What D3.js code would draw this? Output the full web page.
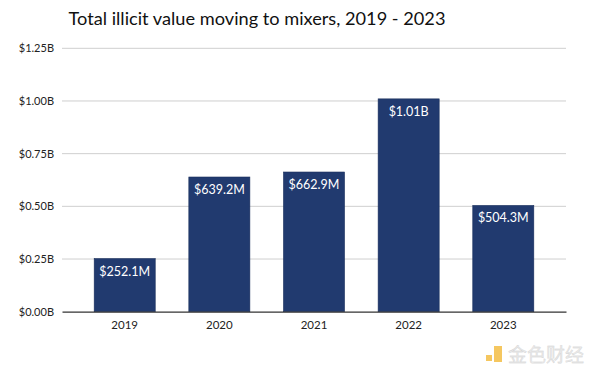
<!DOCTYPE html>
<html><head><meta charset="utf-8">
<script src="https://cdn.jsdelivr.net/npm/d3@7"></script>
<style>body{margin:0;background:#fff}svg{display:block}</style>
</head><body>
<svg id="c" width="600" height="379"></svg>
<script>
const years = ["2019","2020","2021","2022","2023"];
const values = [0.2521, 0.6392, 0.6629, 1.01, 0.5043];
const valueLabels = ["$252.1M","$639.2M","$662.9M","$1.01B","$504.3M"];
const yTicks = [0, 0.25, 0.5, 0.75, 1.0, 1.25];
const tickLabels = ["$0.00B","$0.25B","$0.50B","$0.75B","$1.00B","$1.25B"];
const title = "Total illicit value moving to mixers, 2019 - 2023";

const svg = d3.select("#c");
const font = "Lato, 'Noto Sans', sans-serif";
const x = d3.scaleBand().domain(years).range([62, 566]).paddingInner(0.355).paddingOuter(0.34);
const y = d3.scaleLinear().domain([0, 1.25]).range([311.7, 48.3]);

svg.append("text").attr("x", 257).attr("y", 25).attr("text-anchor","middle")
  .attr("font-family", font).attr("font-size", 18.2).attr("fill","#111").text(title);

const grid = svg.append("g");
grid.selectAll("line").data(yTicks.slice(1)).join("line")
  .attr("x1", 62).attr("x2", 566).attr("y1", d=>y(d)).attr("y2", d=>y(d))
  .attr("stroke","#cfcfcf").attr("stroke-width",1);

const yAxis = d3.axisLeft(y).tickValues(yTicks).tickSize(0).tickPadding(8)
  .tickFormat((d,i)=>tickLabels[i]);
const ga = svg.append("g").attr("transform","translate(62,0)").call(yAxis);
ga.select(".domain").remove();
ga.selectAll("text").attr("font-family", font).attr("font-size", 11).attr("fill","#222");

svg.selectAll("rect.bar").data(values).join("rect").attr("class","bar")
  .attr("x",(d,i)=>x(years[i])).attr("width", x.bandwidth())
  .attr("y", d=>y(d)).attr("height", d=>y(0)-y(d))
  .attr("fill","#213a6f").attr("stroke","#1a2f5c").attr("stroke-width",0.6);

svg.selectAll("text.val").data(values).join("text").attr("class","val")
  .attr("x",(d,i)=>x(years[i])+x.bandwidth()/2).attr("y", d=>y(d)+17)
  .attr("text-anchor","middle").attr("font-family", font).attr("font-size", 12.5)
  .attr("fill","#fff").text((d,i)=>valueLabels[i]);

const xAxis = d3.axisBottom(x).tickSize(0).tickPadding(9);
const gx = svg.append("g").attr("transform",`translate(0,${y(0)})`).call(xAxis);
gx.select(".domain").attr("stroke","#333").attr("stroke-width",1.2);
gx.selectAll("text").attr("font-family", font).attr("font-size", 11.5).attr("fill","#222");

// watermark
const wm = svg.append("g").attr("opacity",0.7);
wm.append("rect").attr("x",486).attr("y",355).attr("width",6).attr("height",6).attr("fill","#f2b01e");
wm.append("rect").attr("x",494).attr("y",346).attr("width",8).attr("height",16).attr("fill","#f2b01e");
wm.append("text").attr("x",508).attr("y",362).attr("font-family","'Noto Sans CJK SC'")
  .attr("font-size",19).attr("fill","#e0e0e0").attr("stroke","#bbb").attr("stroke-width",0.3).text("金色财经");
</script>
</body></html>
